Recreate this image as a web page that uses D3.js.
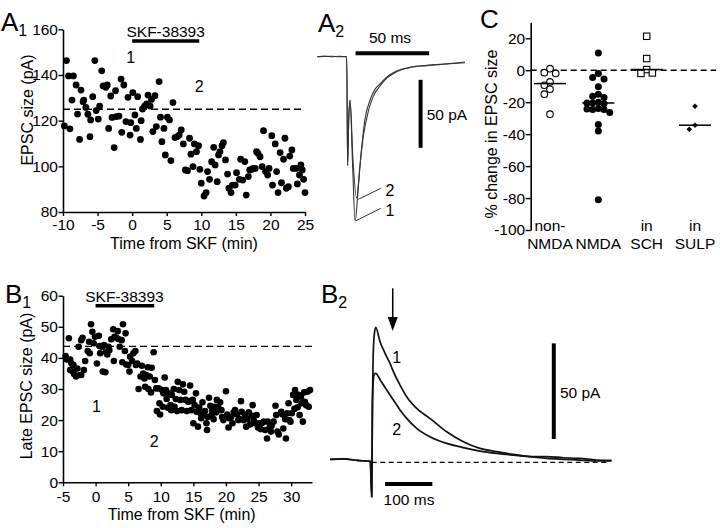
<!DOCTYPE html>
<html><head><meta charset="utf-8">
<script src="https://cdn.jsdelivr.net/npm/d3@7"></script>
<style>body{margin:0;background:#fff} svg{display:block} text{font-family:"Liberation Sans",Arial,sans-serif;fill:#000}</style>
</head><body><svg id="fig" width="720" height="528"></svg>
<script>
// ---------- DATA ----------
// Panel A1: time (min) vs EPSC size (pA)
const a1Points = [[-9.5,146.3],[-9.2,139.6],[-9.8,117.7],[-9.0,116.4],[-8.5,139.6],[-8.7,129],[-8.1,135.6],[-7.9,122.9],[-7.6,111.8],[-7.4,133.4],[-7.1,128.3],[-7.0,129],[-6.7,125.8],[-6.4,122.8],[-6.1,113],[-6.0,120.3],[-5.7,130.5],[-5.4,146.3],[-5.2,124.4],[-4.9,120.7],[-4.7,126.4],[-4.4,141.8],[-4.2,135.2],[-3.8,134.6],[-3.6,135.6],[-3.4,116.6],[-3.1,130.8],[-2.9,121.4],[-2.6,108.2],[-2.4,133.1],[-2.3,121.8],[-1.9,122],[-1.6,138.2],[-1.5,114.9],[-1.2,135.6],[-0.9,119.6],[-0.6,130.2],[-0.3,113.7],[-0.2,119.1],[0.1,132.3],[0.4,122.5],[0.6,116.6],[0.8,130.5],[1.2,111.8],[1.3,120],[1.5,125.1],[1.8,126.4],[2.1,127.3],[2.3,131.2],[2.6,126.4],[2.8,129.3],[3.0,115.2],[3.3,130.9],[3.5,117.4],[3.9,137.1],[4.1,121.5],[4.3,110.8],[4.6,116.6],[4.8,105],[5.1,121.5],[5.4,120.3],[5.6,102.5],[5.9,127.9],[6.2,112.6],[6.5,113],[6.8,113.7],[7.1,115.9],[7.4,109.8],[7.7,98.4],[8.0,98.1],[8.3,112.3],[8.5,105.3],[8.8,99.9],[9.0,109.8],[9.3,106.4],[9.6,109],[9.8,98.7],[10.0,92.6],[10.4,87],[10.7,88.5],[10.9,97.7],[11.2,94.3],[11.5,102],[11.8,108.3],[12.0,100.6],[12.3,93.3],[12.5,105],[12.7,106.4],[13.0,109],[13.2,110.4],[13.5,102.8],[13.8,96.6],[14.0,90.4],[14.3,88.5],[14.5,91.8],[14.9,91.8],[15.1,97.2],[15.5,94.3],[15.7,103.1],[16.0,94],[16.3,102.1],[16.5,87.4],[16.8,95.5],[17.0,98.4],[17.3,98.7],[17.5,99.1],[17.8,99.1],[18.0,106.4],[18.2,105.7],[18.5,104.2],[18.8,99.9],[19.0,115.6],[19.3,97.7],[19.6,96.2],[19.8,99.1],[20.2,113.4],[20.3,91.8],[20.7,109.8],[20.9,97.7],[21.1,88.5],[21.4,106],[21.6,92.8],[21.9,103.1],[22.1,112.3],[22.3,90.4],[22.6,91.1],[22.8,104.5],[23.1,107.2],[23.3,99.1],[23.7,99.1],[23.9,92.3],[24.2,96.2],[24.4,100.6],[24.6,98.4],[24.8,94.3],[25.0,88.5]];
const a1XTicks = [-10,-5,0,5,10,15,20,25];
const a1YTicks = [80,100,120,140,160];
const a1Baseline = 125;

// Panel B1: time (min) vs late EPSC size (pA)
const b1Points = [[-4.6,40.6],[-4.1,46.3],[-4.4,39.5],[-3.9,39.5],[-3.7,38.2],[-3.9,36.1],[-3.5,35.6],[-3.3,34.8],[-3.0,34],[-3.4,37.7],[-2.8,36.6],[-2.4,34.5],[-2.2,34.5],[-2.2,45.7],[-2.0,46.5],[-2.6,43.6],[-1.8,36.1],[-1.6,39],[-1.2,42.2],[-0.9,41.5],[-1.0,45.2],[-0.7,50.8],[-0.5,48.4],[-0.3,44.7],[-0.1,46.8],[0.2,38.2],[0.5,47.1],[0.6,43.8],[0.7,41.5],[1.0,43.6],[1.1,35.6],[1.3,44.1],[1.5,35.4],[1.6,41.8],[1.8,41.1],[2.0,43.6],[2.1,42.5],[2.4,46],[2.7,49.2],[2.8,39],[2.9,46.8],[3.2,46.5],[3.4,48.6],[3.5,46.1],[3.7,43.6],[4.0,45.7],[4.1,38.6],[4.2,50.8],[4.5,42.2],[4.6,47.9],[4.7,37.9],[5.0,37.7],[5.2,35.6],[5.3,40.4],[5.6,39],[5.8,41.5],[6.1,42.2],[6.2,37.7],[6.4,38.2],[6.6,30],[6.9,34],[7.1,37.5],[7.3,35],[7.5,33.4],[7.6,30.7],[7.8,34.5],[8.0,37],[8.1,30],[8.3,34],[8.5,28.9],[8.6,36.8],[8.9,41.8],[9.1,32.9],[9.3,30.2],[9.4,22.9],[9.7,30.2],[9.8,25.4],[9.9,21.8],[10.2,29.7],[10.3,24.3],[10.4,28.6],[10.6,33.7],[10.8,29.7],[10.9,26.8],[11.1,24],[11.2,28.6],[11.5,24.8],[11.6,23.2],[11.7,28.1],[12.0,30],[12.1,24.3],[12.3,26.8],[12.5,22.9],[12.6,32.3],[12.8,29.7],[13.0,26.5],[13.2,23.2],[13.4,31.5],[13.6,29.1],[13.8,26.5],[14.0,22.9],[14.2,25.9],[14.4,26.1],[14.5,31.1],[14.7,23.2],[14.9,26.5],[15.0,19],[15.2,24.8],[15.4,28.6],[15.5,22.7],[15.7,17.9],[15.9,24],[16.1,22.2],[16.2,20.6],[16.4,25.7],[16.6,21.8],[16.8,22.9],[17.0,19],[17.1,16.8],[17.2,21],[17.4,27.2],[17.6,24.6],[17.8,21.6],[17.9,23.2],[18.1,20.3],[18.3,24.3],[18.5,22.5],[18.6,26.5],[18.8,24.3],[19.1,25.7],[19.3,23.2],[19.4,21],[19.6,20],[20.0,29.3],[20.2,21.8],[20.4,17.6],[20.5,20.6],[20.8,21],[21.0,19],[21.2,22.5],[21.4,23.2],[21.7,21.8],[21.9,20],[22.1,20.3],[22.3,26.1],[22.4,22.7],[22.7,20],[22.9,21.8],[23.1,17.9],[23.3,20.3],[23.5,22.5],[23.7,18.6],[24.0,21.4],[24.1,24.8],[24.3,19.7],[24.5,19],[24.7,21.6],[24.9,17.6],[25.1,19],[25.3,17.1],[25.5,19],[25.8,19.5],[26.0,16.8],[26.3,14.1],[26.4,19.5],[26.7,17.6],[26.9,16.3],[27.0,18.2],[27.3,19.5],[27.6,24.6],[27.7,21.6],[27.9,16.3],[28.1,15.4],[28.4,22.2],[28.5,22.7],[28.7,21.8],[28.8,17.3],[29.1,20.3],[29.2,14.1],[29.4,22.2],[29.6,25.4],[29.7,20],[29.9,19.5],[30.1,22.2],[30.3,28.1],[30.5,23.6],[30.6,29.7],[30.8,26.5],[31.0,24.1],[31.1,28.1],[31.3,21.6],[31.5,27.5],[31.6,25.4],[31.8,19.5],[32.0,28.9],[32.1,25.9],[32.3,24.8],[32.5,29.1],[32.7,24.3],[32.9,29.7]];
const b1XTicks = [-5,0,5,10,15,20,25,30];
const b1YTicks = [0,10,20,30,40,50,60];
const b1Baseline = 43.7;

// Panel A2: EPSC traces (ms, pA)
const a2Trace1 = [[-20,0],[-15,0.4],[-10,0],[-5,0.3],[0,0],[0.6,-80],[1.4,-45],[2.3,-32],[4,-80],[5.7,-121],[7.9,-95],[10.2,-66],[12.4,-46],[15.8,-32],[19.2,-24],[22.6,-20],[27.1,-15],[33.9,-10.5],[43,-7.8],[54.3,-6.3],[65.6,-5.4],[80.3,-3.9]];
const a2Trace2 = [[-20,0],[-15,0.2],[-10,0.3],[-5,0],[0,0],[0.6,-80],[1.4,-45],[2.3,-32],[4.2,-75],[6.8,-104],[9,-80],[11.3,-58.5],[14.7,-40],[18.1,-29],[22.6,-21.5],[27.1,-16],[33.9,-11],[43,-8],[54.3,-6.6],[65.6,-5.6],[80.3,-4.4]];

// Panel B2: late EPSC traces (ms, pA)
const b2Trace1 = [[-88,1.5],[-60,1.8],[-30,1],[-3,0.5],[0,-18],[1.5,30],[3,55],[5.5,67],[8.5,70.6],[17.6,63],[28.2,57],[38.7,51.7],[45.8,47.4],[59.9,40.4],[73.9,34.3],[95,28.2],[123,23],[158.5,16],[193.7,10.8],[228.9,7.3],[264,5.6],[299,4.2],[334.5,3],[369.7,3],[405,2.4],[440,2.1],[475,1.2],[507,1]];
const b2Trace2 = [[-88,1.5],[-60,1.8],[-30,1],[-3,0.5],[0,-18],[1.5,30],[3,42],[5.5,46],[8.5,46.5],[17.6,43.2],[31.7,37.8],[45.8,32.6],[59.9,27.4],[73.9,23],[95,17.8],[123,13.4],[158.5,9.9],[193.7,7.7],[229,5.9],[264,4.7],[299,3.8],[334.5,3],[370,2.1],[405,1.6],[440,1.2],[475,0.7],[507,0.7]];

// Panel C: % change in EPSC size
const cCategories = ["non-NMDA","NMDA","in SCH","in SULP"];
const cLabelTop = ["non-","","in","in"];
const cLabelBottom = ["NMDA","NMDA","SCH","SULP"];
const cNonNMDA = [1,-1.5,-2,-7.3,-9.4,-11.9,-15,-27.5];
const cNMDA = [10.8,-2,-4.6,-5.5,-10.4,-15,-16.3,-17,-20,-20.5,-20.5,-21,-24,-24.6,-24.6,-24.3,-26.5,-34,-38,-81];
const cSCH = [21.25,7.3,0.4,-2,-1.7];
const cSULP = [-22.5,-34.4,-36.9];
const cYTicks = [-100,-80,-60,-40,-20,0,20];

// ---------- DRAW ----------
const svg = d3.select('#fig');
const FF = '"Liberation Sans", Arial, sans-serif';
const FS = 15.5;

function styleAxis(g){
  g.select('.domain').attr('stroke','#000').attr('stroke-width',1.6);
  g.selectAll('.tick line').attr('stroke','#000').attr('stroke-width',1.4);
  g.selectAll('.tick text').attr('font-size',FS).attr('font-family',FF).attr('fill','#000');
}
function txt(x,y,s,size,anchor){
  return svg.append('text').attr('x',x).attr('y',y).attr('font-size',size||FS)
    .attr('text-anchor',anchor||'start').text(s);
}
function panelLabel(x,y,letter,sub){
  const t = svg.append('text').attr('x',x).attr('y',y).attr('font-size',26).text(letter);
  if(sub) t.append('tspan').attr('font-size',16).attr('dy',5).text(sub);
}

// ----- A1 -----
const xA1 = d3.scaleLinear().domain([-10,25]).range([63,305]);
const yA1 = d3.scaleLinear().domain([80,160]).range([212,29.3]);
svg.append('g').attr('transform','translate(0,212)')
  .call(d3.axisBottom(xA1).tickValues(a1XTicks).tickFormat(d=>String(d)).tickSize(4).tickPadding(3).tickSizeOuter(0)).call(styleAxis);
svg.append('g').attr('transform','translate(63,0)')
  .call(d3.axisLeft(yA1).tickValues(a1YTicks).tickFormat(d=>String(d)).tickSize(4.5).tickPadding(0.5).tickSizeOuter(0)).call(styleAxis);
svg.append('line').attr('x1',xA1(-10)).attr('x2',xA1(25)).attr('y1',yA1(a1Baseline)).attr('y2',yA1(a1Baseline))
  .attr('stroke','#000').attr('stroke-width',1.4).attr('stroke-dasharray','7,4');
svg.append('g').selectAll('circle').data(a1Points).join('circle')
  .attr('cx',d=>xA1(d[0])).attr('cy',d=>yA1(d[1])).attr('r',3.4).attr('fill','#000');
svg.append('line').attr('x1',xA1(0)).attr('x2',xA1(9.7)).attr('y1',41).attr('y2',41).attr('stroke','#000').attr('stroke-width',3.5);
txt((xA1(0)+xA1(9.7))/2,37,'SKF-38393',FS,'middle');
txt(xA1(-0.2),63,'1',16,'middle');
txt(xA1(9.7),92,'2',16,'middle');
txt(xA1(7.5),249,'Time from SKF (min)',16,'middle');
svg.append('text').attr('transform','translate(33,110) rotate(-90)').attr('text-anchor','middle').attr('font-size',16).text('EPSC size (pA)');
panelLabel(1,31,'A','1');

// ----- B1 -----
const xB1 = d3.scaleLinear().domain([-5,33.2]).range([63,312]);
const yB1 = d3.scaleLinear().domain([0,60]).range([482.3,295.7]);
svg.append('g').attr('transform','translate(0,482.3)')
  .call(d3.axisBottom(xB1).tickValues(b1XTicks).tickFormat(d=>String(d)).tickSize(4).tickPadding(4.5).tickSizeOuter(0)).call(styleAxis);
svg.append('g').attr('transform','translate(63,0)')
  .call(d3.axisLeft(yB1).tickValues(b1YTicks).tickFormat(d=>String(d)).tickSize(4.5).tickPadding(0.5).tickSizeOuter(0)).call(styleAxis);
svg.append('line').attr('x1',xB1(-5)).attr('x2',xB1(33.2)).attr('y1',yB1(b1Baseline)).attr('y2',yB1(b1Baseline))
  .attr('stroke','#000').attr('stroke-width',1.4).attr('stroke-dasharray','7,4');
svg.append('g').selectAll('circle').data(b1Points).join('circle')
  .attr('cx',d=>xB1(d[0])).attr('cy',d=>yB1(d[1])).attr('r',3.3).attr('fill','#000');
svg.append('line').attr('x1',xB1(0)).attr('x2',xB1(9)).attr('y1',305.7).attr('y2',305.7).attr('stroke','#000').attr('stroke-width',3.5);
txt(124.5,301.5,'SKF-38393',FS,'middle');
txt(xB1(0.15),412,'1',16,'middle');
txt(xB1(9),447,'2',16,'middle');
txt(181.7,520,'Time from SKF (min)',16,'middle');
svg.append('text').attr('transform','translate(32,386) rotate(-90)').attr('text-anchor','middle').attr('font-size',16).text('Late EPSC size (pA)');
panelLabel(5,303,'B','1');

// ----- A2 -----
const xA2 = d3.scaleLinear().domain([-20,80.3]).range([317.3,464.9]);
const yA2 = d3.scaleLinear().domain([-125,5]).range([226.7,49.9]);
const lineA2 = d3.line().x(d=>xA2(d[0])).y(d=>yA2(d[1])).curve(d3.curveMonotoneX);
[a2Trace1,a2Trace2].forEach(tr=>{
  svg.append('path').attr('d',lineA2(tr)).attr('fill','none').attr('stroke','#333').attr('stroke-width',1.1);
});
svg.append('line').attr('x1',xA2(6)).attr('x2',xA2(56)).attr('y1',53.3).attr('y2',53.3).attr('stroke','#000').attr('stroke-width',4);
txt(xA2(29.4),42.5,'50 ms',FS,'middle');
svg.append('line').attr('x1',xA2(50.2)).attr('x2',xA2(50.2)).attr('y1',yA2(-17)).attr('y2',yA2(-67)).attr('stroke','#000').attr('stroke-width',4);
txt(xA2(54.3),120,'50 pA',FS,'start');
svg.append('line').attr('x1',xA2(7.9)).attr('y1',yA2(-104.9)).attr('x2',xA2(23.1)).attr('y2',yA2(-96.8)).attr('stroke','#333').attr('stroke-width',1);
svg.append('line').attr('x1',xA2(6.3)).attr('y1',yA2(-120.6)).attr('x2',xA2(23.1)).attr('y2',yA2(-111.5)).attr('stroke','#333').attr('stroke-width',1);
txt(xA2(29.4),195.5,'2',16,'middle');
txt(xA2(29.4),215.5,'1',16,'middle');
panelLabel(318,32,'A','2');

// ----- B2 -----
const xB2 = d3.scaleLinear().domain([-88,507]).range([330.1,611.5]);
const yB2 = d3.scaleLinear().domain([-20,95]).range([500.6,280.6]);
const lineB2 = d3.line().x(d=>xB2(d[0])).y(d=>yB2(d[1])).curve(d3.curveMonotoneX);
svg.append('line').attr('x1',xB2(0)).attr('x2',xB2(503)).attr('y1',yB2(0)).attr('y2',yB2(0))
  .attr('stroke','#000').attr('stroke-width',1.1).attr('stroke-dasharray','5,3.5');
[b2Trace1,b2Trace2].forEach(tr=>{
  svg.append('path').attr('d',lineB2(tr)).attr('fill','none').attr('stroke','#111').attr('stroke-width',1.7);
});
svg.append('line').attr('x1',xB2(44.4)).attr('x2',xB2(44.4)).attr('y1',yB2(91)).attr('y2',yB2(75)).attr('stroke','#000').attr('stroke-width',1.5);
svg.append('path').attr('d',`M${xB2(44.4)-5},${yB2(76)} L${xB2(44.4)+5},${yB2(76)} L${xB2(44.4)},${yB2(68.6)} Z`).attr('fill','#000');
txt(xB2(52.8),363,'1',16,'middle');
txt(xB2(52.8),434.5,'2',16,'middle');
svg.append('line').attr('x1',xB2(385)).attr('x2',xB2(385)).attr('y1',yB2(62.2)).attr('y2',yB2(12.2)).attr('stroke','#000').attr('stroke-width',4);
txt(xB2(398),397.5,'50 pA',FS,'start');
svg.append('line').attr('x1',xB2(28.2)).attr('x2',xB2(128.2)).attr('y1',yB2(-11.3)).attr('y2',yB2(-11.3)).attr('stroke','#000').attr('stroke-width',4);
txt(xB2(78.9),505,'100 ms',FS,'middle');
panelLabel(321,303,'B','2');

// ----- C -----
const xC = d3.scalePoint().domain(cCategories).range([550,695]);
const yC = d3.scaleLinear().domain([-100,30]).range([230,22.3]);
svg.append('g').attr('transform','translate(530.7,0)')
  .call(d3.axisLeft(yC).tickValues(cYTicks).tickFormat(d=>String(d)).tickSize(5).tickPadding(0.5).tickSizeOuter(0)).call(styleAxis);
svg.append('line').attr('x1',530.7).attr('x2',716).attr('y1',yC(0)).attr('y2',yC(0))
  .attr('stroke','#000').attr('stroke-width',1.5).attr('stroke-dasharray','6,4');
function dodge(vals,cx,step){
  const placed=[]; const order=[0,-1,1,-2,2,-3,3];
  return vals.map(v=>{
    const yy=yC(v);
    for(const o of order){
      const xx=cx+o*step;
      if(placed.every(p=>Math.hypot(p[0]-xx,p[1]-yy)>=step-0.1)){placed.push([xx,yy]);return [xx,yy];}
    }
    return [cx,yy];
  });
}
const groups=[cNonNMDA,cNMDA,cSCH,cSULP];
const gC = svg.append('g');
groups.forEach((vals,i)=>{
  const cx=xC(cCategories[i]);
  const pts=dodge(vals,cx,5.7);
  if(i===0) gC.selectAll(null).data(pts).join('circle').attr('cx',d=>d[0]).attr('cy',d=>d[1]).attr('r',3.3).attr('fill','#fff').attr('stroke','#000').attr('stroke-width',1.1);
  if(i===1) gC.selectAll(null).data(pts).join('circle').attr('cx',d=>d[0]).attr('cy',d=>d[1]).attr('r',3.5).attr('fill','#000');
  if(i===2) gC.selectAll(null).data(pts).join('rect').attr('x',d=>d[0]-3.2).attr('y',d=>d[1]-3.2).attr('width',6.4).attr('height',6.4).attr('fill','#fff').attr('stroke','#000').attr('stroke-width',1.1);
  if(i===3) gC.selectAll(null).data(pts).join('path').attr('d',d=>`M${d[0]},${d[1]-2.8}L${d[0]+2.8},${d[1]}L${d[0]},${d[1]+2.8}L${d[0]-2.8},${d[1]}Z`).attr('fill','#000');
  const med=d3.median(vals);
  gC.append('line').attr('x1',cx-16).attr('x2',cx+16).attr('y1',yC(med)).attr('y2',yC(med)).attr('stroke','#000').attr('stroke-width',1.5);
  if(cLabelTop[i]) txt(cx,231,cLabelTop[i],FS,'middle');
  txt(cx,249,cLabelBottom[i],FS,'middle');
});
svg.append('text').attr('transform','translate(497,134) rotate(-90)').attr('text-anchor','middle').attr('font-size',16).text('% change in EPSC size');
panelLabel(480,28,'C','');
</script></body></html>
